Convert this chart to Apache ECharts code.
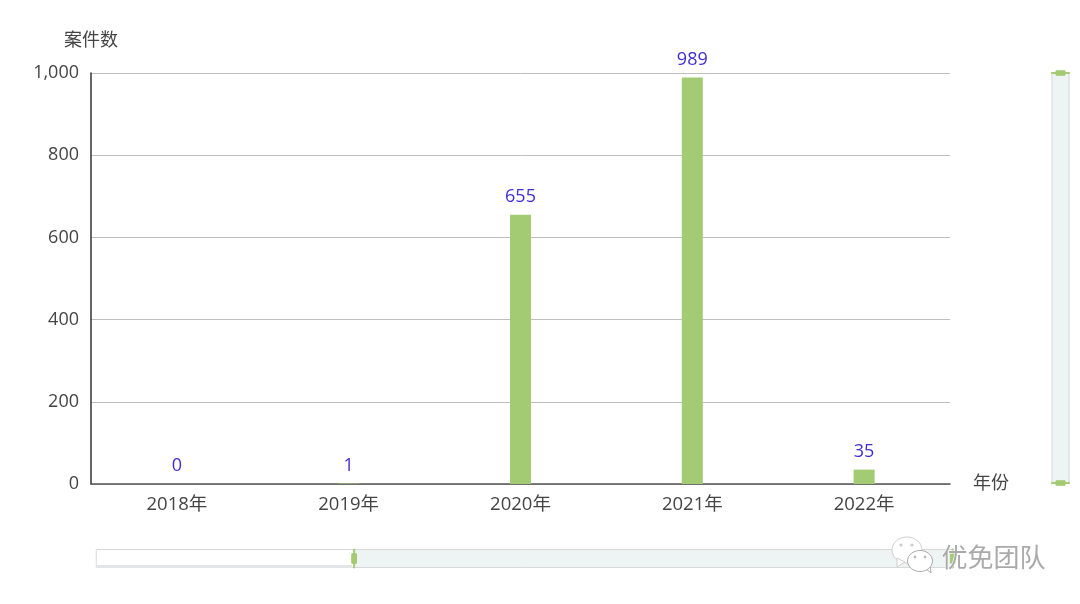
<!DOCTYPE html>
<html>
<head>
<meta charset="utf-8">
<style>html,body{margin:0;padding:0;background:#fff}#container{width:1080px;height:604px}</style>
<script src="https://cdn.jsdelivr.net/npm/echarts@6/dist/echarts.min.js"></script>
</head>
<body>
<div id="container"></div>
<script>
var years = ["2018年", "2019年", "2020年", "2021年", "2022年"];
var cases = [0, 1, 655, 989, 35];
var yName = "案件数";
var xName = "年份";
var mark = "优免团队";

var font = '"Open Sans","Noto Sans CJK SC",sans-serif';
var green = "#a3cb73";
// small grip with a thin line through it, the vertical slider rotates it itself
var grip = "path://M9.5,0h1v20h-1zM7.5,5h5v10h-5z";

var myChart = echarts.init(document.getElementById("container"));
myChart.setOption({
    animation: false,
    textStyle: { fontFamily: font },
    grid: { left: 91, right: 130, top: 73, bottom: 120 },
    xAxis: [{
        type: "category",
        data: years,
        name: xName,
        nameGap: 23,
        nameTextStyle: { color: "#444", fontSize: 18, fontFamily: font, padding: [4, 0, 0, 0] },
        axisLine: { lineStyle: { color: "#555", width: 1.5 } },
        axisTick: { show: false },
        axisLabel: { color: "#444", fontSize: 18.5, margin: 11, fontFamily: font }
    }, {
        // only carries the bottom slider, which does not filter the bars
        type: "value", show: false, min: 0, max: 100
    }],
    yAxis: {
        type: "value",
        min: 0,
        max: 1000,
        interval: 200,
        name: yName,
        nameGap: 23,
        nameTextStyle: { color: "#444", fontSize: 18, fontFamily: font },
        axisLine: { show: true, lineStyle: { color: "#333", width: 1.5 } },
        axisTick: { show: false },
        axisLabel: {
            color: "#444", fontSize: 18, margin: 12, fontFamily: font,
            formatter: function (v) { return v.toLocaleString("en-US"); }
        },
        splitLine: { lineStyle: { color: "#bfbfbf", width: 1 } }
    },
    dataZoom: [{
        type: "slider",
        xAxisIndex: 1,
        start: 30,
        end: 100,
        left: 95,
        width: 858,
        top: 549,
        height: 19,
        backgroundColor: "#fff",
        borderColor: "#d8d8d8",
        fillerColor: "#eef3f3",
        showDetail: false,
        showDataShadow: false,
        brushSelect: false,
        moveHandleSize: 0,
        handleIcon: grip,
        handleSize: "100%",
        handleStyle: { color: green, borderColor: green }
    }, {
        type: "slider",
        yAxisIndex: 0,
        orient: "vertical",
        start: 0,
        end: 100,
        left: 1051,
        width: 18,
        top: 72,
        height: 412,
        backgroundColor: "#fff",
        borderColor: "#d8d8d8",
        fillerColor: "#eef3f3",
        showDetail: false,
        showDataShadow: false,
        brushSelect: false,
        moveHandleSize: 0,
        handleIcon: grip,
        handleSize: "100%",
        handleStyle: { color: green, borderColor: green }
    }],
    series: [{
        type: "bar",
        data: cases,
        barWidth: 21,
        itemStyle: { color: green },
        label: { show: true, position: "top", distance: 9, color: "#3f2fd2", fontSize: 18, fontFamily: font }
    }],
    graphic: [
        // grey strip under the unselected part of the bottom slider
        { type: "rect", left: 96, top: 565, z: 10, shape: { width: 256, height: 3 }, style: { fill: "#e3e5e8" }, silent: true },
        // watermark
        { type: "ellipse", shape: { cx: 907, cy: 550, rx: 15, ry: 13 }, style: { fill: "#fff", stroke: "#cfcfcf", lineWidth: 1 }, z: 20 },
        { type: "polygon", shape: { points: [[897, 558], [897, 567], [905, 562]] }, style: { fill: "#fff", stroke: "#cfcfcf" }, z: 20 },
        { type: "circle", shape: { cx: 901, cy: 545, r: 1.6 }, style: { fill: "#ccc" }, z: 20 },
        { type: "circle", shape: { cx: 912, cy: 545, r: 1.6 }, style: { fill: "#ccc" }, z: 20 },
        { type: "polygon", shape: { points: [[925, 568], [931, 573], [930, 565]] }, style: { fill: "#fff", stroke: "#aaa" }, z: 21 },
        { type: "ellipse", shape: { cx: 920, cy: 561, rx: 12.5, ry: 10.5 }, style: { fill: "#fff", stroke: "#aaa", lineWidth: 1 }, z: 21 },
        { type: "circle", shape: { cx: 915, cy: 557, r: 1.4 }, style: { fill: "#bbb" }, z: 21 },
        { type: "circle", shape: { cx: 925, cy: 557, r: 1.4 }, style: { fill: "#bbb" }, z: 21 },
        { type: "text", left: 941, top: 544, z: 22, style: { text: mark, fill: "#aaa", font: '26px "Noto Sans CJK SC"', stroke: "#fff", lineWidth: 1 } }
    ]
});
</script>
</body>
</html>
